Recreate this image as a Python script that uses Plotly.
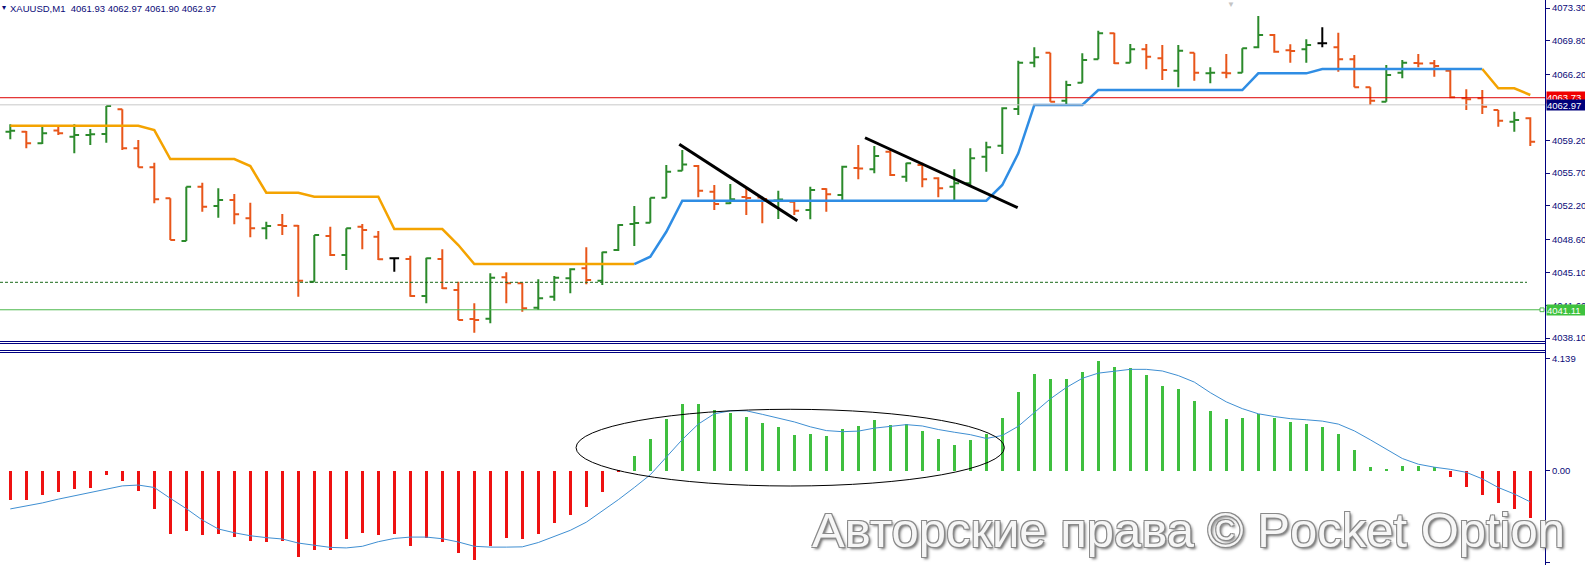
import plotly.graph_objects as go

# ---------------- data ----------------
BARS = list(range(96))
OPEN = [4060.10, 4060.10, 4058.87, 4060.23, 4059.57, 4059.75, 4059.86, 4062.49, 4058.33, 4056.31,
        4053.00, 4048.45, 4054.24, 4052.18, 4052.82, 4050.87, 4049.80, 4050.15, 4050.08, 4044.10,
        4048.98, 4046.95, 4049.97, 4048.90, 4046.60, 4046.53, 4042.58, 4046.53, 4043.22, 4040.13,
        4040.16, 4044.57, 4043.93, 4041.33, 4042.50, 4044.47, 4045.53, 4044.21, 4047.49, 4050.26,
        4050.40, 4053.06, 4055.94, 4056.45, 4053.70, 4052.47, 4053.14, 4053.09, 4052.77, 4052.64,
        4051.75, 4053.99, 4053.35, 4056.23, 4056.09, 4057.97, 4055.30, 4056.55, 4055.13, 4054.24,
        4054.60, 4057.44, 4058.61, 4062.53, 4067.47, 4068.53, 4063.41, 4065.33, 4067.83, 4070.60,
        4067.47, 4068.89, 4067.93, 4066.61, 4068.53, 4066.33, 4066.40, 4066.40, 4069.11, 4070.42,
        4068.79, 4068.89, 4069.53, 4069.11, 4067.83, 4064.84, 4063.31, 4066.40, 4067.43, 4067.40,
        4066.61, 4063.67, 4063.67, 4062.42, 4061.17, 4061.53]
HIGH = [4060.89, 4060.18, 4060.71, 4060.71, 4060.89, 4060.39, 4062.85, 4062.49, 4059.22, 4056.80,
        4053.00, 4054.24, 4054.67, 4054.07, 4053.46, 4052.53, 4050.50, 4051.33, 4050.15, 4049.09,
        4049.97, 4049.80, 4050.26, 4049.51, 4046.60, 4046.88, 4046.66, 4047.56, 4044.10, 4041.80,
        4045.00, 4045.11, 4044.00, 4044.36, 4044.71, 4045.53, 4047.77, 4047.30, 4050.23, 4052.18,
        4053.06, 4056.55, 4058.15, 4056.55, 4054.42, 4054.53, 4054.07, 4053.17, 4053.81, 4052.71,
        4054.24, 4054.07, 4056.48, 4058.69, 4058.58, 4058.15, 4056.80, 4056.80, 4055.24, 4056.09,
        4058.33, 4059.04, 4062.71, 4067.68, 4069.11, 4068.53, 4065.55, 4068.47, 4070.88, 4070.67,
        4069.46, 4069.46, 4069.35, 4069.35, 4068.53, 4066.97, 4068.39, 4069.00, 4072.45, 4070.53,
        4069.43, 4069.96, 4071.24, 4070.67, 4068.29, 4064.84, 4067.22, 4067.75, 4068.39, 4067.75,
        4066.69, 4064.63, 4064.55, 4062.42, 4062.24, 4061.64]
LOW = [4059.29, 4058.33, 4058.79, 4059.75, 4057.80, 4058.69, 4058.93, 4058.15, 4056.31, 4052.47,
       4048.55, 4048.45, 4051.57, 4050.93, 4050.23, 4048.84, 4048.63, 4049.09, 4042.50, 4044.10,
       4046.85, 4045.35, 4047.56, 4046.42, 4045.17, 4042.50, 4041.80, 4043.33, 4040.02, 4038.66,
       4039.67, 4041.80, 4040.90, 4041.09, 4042.08, 4042.87, 4043.83, 4043.75, 4047.38, 4047.91,
       4050.40, 4053.06, 4055.94, 4053.11, 4051.75, 4052.39, 4051.22, 4050.33, 4050.79, 4051.22,
       4050.76, 4051.57, 4052.64, 4055.03, 4055.67, 4055.38, 4054.77, 4054.17, 4053.11, 4052.82,
       4054.42, 4055.84, 4057.73, 4061.89, 4066.97, 4063.31, 4063.06, 4065.33, 4067.83, 4067.33,
       4067.47, 4066.76, 4065.62, 4064.84, 4065.55, 4065.27, 4065.80, 4066.40, 4069.00, 4068.53,
       4067.47, 4067.47, 4069.11, 4066.51, 4064.84, 4062.95, 4063.31, 4065.80, 4066.97, 4065.97,
       4063.67, 4062.42, 4061.99, 4060.64, 4060.10, 4058.58]
CLOSE = [4060.21, 4058.87, 4059.93, 4059.93, 4059.75, 4059.83, 4062.85, 4058.33, 4056.31, 4052.89,
         4048.55, 4054.24, 4052.10, 4052.82, 4051.29, 4049.80, 4050.05, 4050.05, 4044.21, 4049.09,
         4046.95, 4049.80, 4049.62, 4046.49, 4046.60, 4042.58, 4046.60, 4043.40, 4040.02, 4040.02,
         4044.53, 4043.93, 4041.27, 4042.33, 4044.53, 4045.43, 4044.29, 4047.24, 4050.15, 4050.37,
         4053.06, 4055.84, 4056.60, 4053.81, 4052.39, 4052.89, 4053.03, 4052.93, 4052.87, 4051.68,
         4053.89, 4053.43, 4056.37, 4056.17, 4057.51, 4055.49, 4056.73, 4055.03, 4054.07, 4054.60,
         4057.27, 4058.44, 4062.60, 4067.47, 4068.04, 4063.31, 4065.09, 4067.75, 4070.60, 4067.40,
         4068.89, 4068.11, 4066.69, 4068.75, 4066.40, 4066.40, 4066.33, 4069.00, 4070.42, 4068.64,
         4068.71, 4069.35, 4069.53, 4067.83, 4064.84, 4063.41, 4066.15, 4067.47, 4067.37, 4067.11,
         4063.77, 4063.56, 4062.77, 4061.28, 4061.35, 4059.04]
DOJI = [24, 82]

STOP = [4060.74] * 9 + [4060.28] + [4057.19] * 5 + [4056.44] + [4053.60] * 3 + [4053.17] * 5 \
    + [4049.72] * 4 + [4048.02] + [4045.99] * 11 + [4046.77, 4049.43] + [4052.74] * 20 \
    + [4054.42, 4057.80] + [4062.95] * 4 + [4064.55] * 10 + [4066.33] * 4 + [4066.79] * 11 \
    + [4064.73, 4064.73, 4064.02]
BLUE_FROM, BLUE_TO = 39, 92

HIST = [-1.09, -1.09, -0.91, -0.80, -0.69, -0.62, -0.17, -0.39, -0.76, -1.43,
        -2.35, -2.24, -2.39, -2.35, -2.46, -2.61, -2.64, -2.61, -3.20, -2.94,
        -2.94, -2.53, -2.31, -2.39, -2.35, -2.76, -2.50, -2.64, -3.05, -3.28,
        -2.79, -2.50, -2.53, -2.35, -1.94, -1.65, -1.35, -0.77, -0.05, 0.53,
        1.18, 1.92, 2.47, 2.47, 2.25, 2.14, 1.99, 1.77, 1.62, 1.33,
        1.37, 1.29, 1.55, 1.66, 1.88, 1.70, 1.73, 1.48, 1.18, 0.96,
        1.14, 1.37, 1.96, 2.90, 3.56, 3.37, 3.40, 3.63, 4.04, 3.82,
        3.78, 3.52, 3.14, 3.03, 2.58, 2.21, 1.91, 1.95, 2.09, 1.95,
        1.80, 1.72, 1.61, 1.35, 0.75, 0.15, 0.07, 0.19, 0.19, 0.15,
        -0.24, -0.61, -0.90, -1.21, -1.40, -1.76]
SIGNAL = [-1.41, -1.30, -1.19, -1.05, -0.93, -0.82, -0.70, -0.56, -0.53, -0.62,
          -1.02, -1.40, -1.82, -2.15, -2.29, -2.40, -2.47, -2.52, -2.67, -2.76,
          -2.83, -2.85, -2.79, -2.62, -2.50, -2.45, -2.45, -2.51, -2.63, -2.79,
          -2.82, -2.82, -2.81, -2.65, -2.42, -2.20, -1.90, -1.50, -1.07, -0.62,
          -0.15, 0.50, 1.15, 1.72, 2.10, 2.21, 2.21, 2.08, 1.93, 1.80,
          1.62, 1.48, 1.44, 1.46, 1.57, 1.64, 1.70, 1.65, 1.52, 1.42,
          1.33, 1.19, 1.30, 1.64, 2.13, 2.65, 3.07, 3.41, 3.60, 3.68,
          3.74, 3.74, 3.68, 3.51, 3.27, 2.88, 2.54, 2.29, 2.10, 2.00,
          1.92, 1.88, 1.83, 1.72, 1.47, 1.14, 0.80, 0.45, 0.24, 0.13,
          0.05, -0.06, -0.30, -0.62, -0.86, -1.15]

PRICE_TICKS = [4073.30, 4069.80, 4066.20, 4059.20, 4055.70, 4052.20, 4048.60, 4045.10, 4041.60, 4038.10]
SUB_TICKS = [4.139, 0.0, -3.403]
SUB_TICK_TEXT = ["4.139", "0.00", "-3.403"]

TITLE = "XAUUSD,M1  4061.93 4062.97 4061.90 4062.97"
ASK_LINE = 4063.73
BID_LINE = 4062.97
DASH_LEVEL = 4044.04
GREEN_LEVEL = 4041.11
TRENDLINES = [((41.81, 4058.76), (49.19, 4050.61)), ((53.42, 4059.46), (62.96, 4052.00))]
ELLIPSE = ((35.36, -0.565), (62.13, 2.266))
WATERMARK = "Авторские права © Pocket Option"

# ---------------- styles ----------------
NAVY = "#0a0a78"
GREEN = "#2b8a2b"
ORANGE = "#e8561a"
STOP_ORANGE = "#f4a300"
STOP_BLUE = "#2f8de4"
FONT = "Liberation Sans, Arial, sans-serif"
W, H = 1585, 565
RIGHT = 40
PLOT_W = W - RIGHT

fig = go.Figure()

norm = [i for i in BARS if i not in DOJI]
fig.add_trace(go.Ohlc(
    x=norm, open=[OPEN[i] for i in norm], high=[HIGH[i] for i in norm],
    low=[LOW[i] for i in norm], close=[CLOSE[i] for i in norm],
    increasing=dict(line=dict(color=GREEN, width=2)),
    decreasing=dict(line=dict(color=ORANGE, width=2)),
    tickwidth=0.3, hoverinfo="skip", xaxis="x", yaxis="y"))
fig.add_trace(go.Ohlc(
    x=DOJI, open=[OPEN[i] for i in DOJI], high=[HIGH[i] for i in DOJI],
    low=[LOW[i] for i in DOJI], close=[CLOSE[i] for i in DOJI],
    increasing=dict(line=dict(color="black", width=2)),
    decreasing=dict(line=dict(color="black", width=2)),
    tickwidth=0.3, hoverinfo="skip", xaxis="x", yaxis="y"))

# stop line segments
fig.add_trace(go.Scatter(x=BARS[:BLUE_FROM + 1], y=STOP[:BLUE_FROM + 1], mode="lines",
                         line=dict(color=STOP_ORANGE, width=2.5), hoverinfo="skip"))
fig.add_trace(go.Scatter(x=BARS[BLUE_FROM:BLUE_TO + 1], y=STOP[BLUE_FROM:BLUE_TO + 1], mode="lines",
                         line=dict(color=STOP_BLUE, width=2.5), hoverinfo="skip"))
fig.add_trace(go.Scatter(x=BARS[BLUE_TO:], y=STOP[BLUE_TO:], mode="lines",
                         line=dict(color=STOP_ORANGE, width=2.5), hoverinfo="skip"))

# histogram + signal
fig.add_trace(go.Bar(x=BARS, y=HIST, width=0.19,
                     marker=dict(color=["#ee1111" if v < 0 else "#3fbf3f" for v in HIST], line=dict(width=0)),
                     hoverinfo="skip", xaxis="x", yaxis="y2"))
fig.add_trace(go.Scatter(x=BARS, y=SIGNAL, mode="lines", line=dict(color="#3f8fd2", width=1),
                         hoverinfo="skip", xaxis="x", yaxis="y2"))

x_lo = -10.3 / 16
x_hi = (PLOT_W - 10.3) / 16

shapes = []
# horizontal levels
shapes.append(dict(type="line", xref="paper", yref="y", x0=0, x1=1, y0=ASK_LINE, y1=ASK_LINE,
                   line=dict(color="#dd0000", width=1)))
shapes.append(dict(type="line", xref="paper", yref="y", x0=0, x1=1, y0=BID_LINE, y1=BID_LINE,
                   line=dict(color="#c8c8c8", width=1)))
shapes.append(dict(type="line", xref="paper", yref="y", x0=0, x1=1527 / PLOT_W, y0=DASH_LEVEL, y1=DASH_LEVEL,
                   line=dict(color="#1a6a1a", width=1, dash="3px,2px")))
shapes.append(dict(type="line", xref="paper", yref="y", x0=0, x1=1540 / PLOT_W, y0=GREEN_LEVEL, y1=GREEN_LEVEL,
                   line=dict(color="#4cb84c", width=1)))
shapes.append(dict(type="rect", xref="paper", yref="y", x0=1540 / PLOT_W, x1=1544 / PLOT_W,
                   y0=GREEN_LEVEL - 0.2, y1=GREEN_LEVEL + 0.2, line=dict(color="#4cb84c", width=1),
                   fillcolor="white"))
# trend lines
for (xa, ya), (xb, yb) in TRENDLINES:
    shapes.append(dict(type="line", xref="x", yref="y", x0=xa, y0=ya, x1=xb, y1=yb,
                       line=dict(color="black", width=3)))
# ellipse
(ex0, ey0), (ex1, ey1) = ELLIPSE
shapes.append(dict(type="circle", xref="x", yref="y2", x0=ex0, y0=ey0, x1=ex1, y1=ey1,
                   line=dict(color="black", width=1)))
# separators (half-pixel offsets for crisp 1px lines)
for py in (341.5, 343.5, 350.5, 352.5):
    yy = 1 - py / H
    shapes.append(dict(type="line", xref="paper", yref="paper", x0=0, x1=1, y0=yy, y1=yy,
                       line=dict(color="#000080", width=1)))
# right axis line
shapes.append(dict(type="line", xref="paper", yref="paper", x0=1 + 0.5 / PLOT_W, x1=1 + 0.5 / PLOT_W, y0=0, y1=1,
                   line=dict(color="#000080", width=1)))

annotations = [
    dict(xref="paper", yref="paper", x=0, y=1, xanchor="left", yanchor="top", yshift=-1,
         text="▾", showarrow=False, font=dict(family=FONT, size=8, color=NAVY)),
    dict(xref="paper", yref="paper", x=8 / PLOT_W, y=1, xanchor="left", yanchor="top", yshift=-1,
         text=TITLE, showarrow=False, font=dict(family=FONT, size=9.5, color=NAVY)),
    dict(xref="paper", yref="paper", x=1231 / PLOT_W, y=1, xanchor="center", yanchor="top", yshift=2,
         text="▼", showarrow=False, font=dict(family=FONT, size=8, color="#c4c4c4")),
    dict(xref="paper", yref="y", x=1, y=ASK_LINE, xanchor="left", yanchor="middle", xshift=1,
         text="4063.73", showarrow=False, bgcolor="#f00000", width=42, height=11, align="left",
         borderpad=0, font=dict(family=FONT, size=9.5, color="white")),
    dict(xref="paper", yref="y", x=1, y=BID_LINE, xanchor="left", yanchor="middle", xshift=1,
         text="4062.97", showarrow=False, bgcolor="#00007a", width=42, height=10, align="left",
         borderpad=0, font=dict(family=FONT, size=9.5, color="white")),
    dict(xref="paper", yref="y", x=1, y=GREEN_LEVEL, xanchor="left", yanchor="middle", xshift=1,
         text="4041.11", showarrow=False, bgcolor="#3ec23e", width=42, height=10, align="left",
         borderpad=0, font=dict(family=FONT, size=9.5, color="white")),
    dict(xref="paper", yref="paper", x=1188 / PLOT_W, y=1 - 530 / H, xanchor="center", yanchor="middle",
         text=WATERMARK, showarrow=False,
         font=dict(family=FONT, size=49, color="#f6f6f6",
                   shadow="1px 1px 0 #8a8a8a, -1px -1px 0 #8a8a8a, 1px -1px 0 #8a8a8a, -1px 1px 0 #8a8a8a, 2px 2px 3px #666")),
]

fig.update_layout(
    width=W, height=H,
    margin=dict(l=0, r=RIGHT, t=0, b=0),
    paper_bgcolor="white", plot_bgcolor="white",
    showlegend=False,
    xaxis=dict(range=[x_lo, x_hi], showticklabels=False, showgrid=False, zeroline=False,
               showline=False, ticks="", rangeslider=dict(visible=False), anchor="y2", fixedrange=True),
    yaxis=dict(domain=[1 - 342 / H, 1], range=[4073.3 - 334 / 9.375, 4073.3 + 8 / 9.375],
               side="right", anchor="x", tickvals=PRICE_TICKS, tickformat=".2f",
               ticks="outside", ticklen=4, tickcolor=NAVY, showgrid=False, zeroline=False, showline=False,
               tickfont=dict(family=FONT, size=9.5, color=NAVY), fixedrange=True),
    yaxis2=dict(domain=[0, 1 - 351 / H], range=[(470.7 - 565) / 27.1, (470.7 - 351) / 27.1],
                side="right", anchor="x", tickvals=SUB_TICKS, ticktext=SUB_TICK_TEXT,
                ticks="outside", ticklen=4, tickcolor=NAVY, showgrid=False, zeroline=False, showline=False,
                tickfont=dict(family=FONT, size=9.5, color=NAVY), fixedrange=True),
    shapes=shapes,
    annotations=annotations,
    bargap=0,
)

fig.write_html("out.html", config={"displayModeBar": False},
               post_script="document.body.style.margin='0';document.body.style.overflow='hidden';")
